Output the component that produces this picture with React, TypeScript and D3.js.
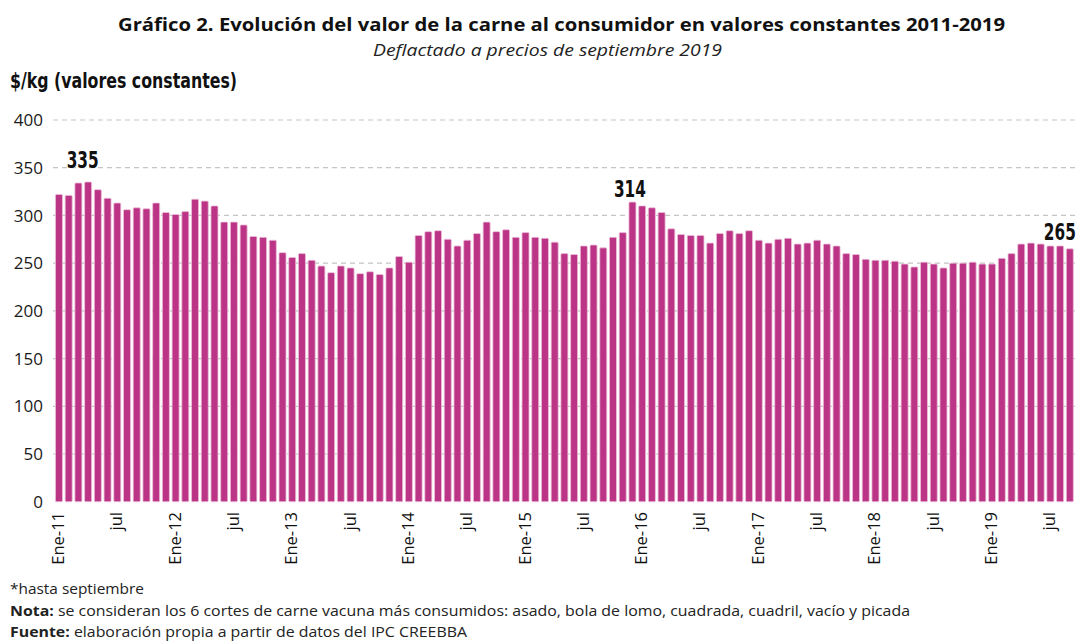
import React from "react";
import * as d3 from "d3";

const values2011 = [322, 321, 334, 335, 327, 318, 313, 306, 308, 307, 313, 303];
const values2012 = [301, 304, 317, 315, 310, 293, 293, 290, 278, 277, 274, 261];
const values2013 = [256, 260, 253, 247, 240, 247, 245, 239, 241, 238, 245, 257];
const values2014 = [251, 279, 283, 284, 275, 268, 274, 281, 293, 283, 285, 277];
const values2015 = [282, 277, 276, 272, 260, 259, 268, 269, 266, 277, 282, 314];
const values2016 = [310, 308, 303, 286, 280, 279, 279, 271, 281, 284, 281, 284];
const values2017 = [274, 271, 275, 276, 270, 271, 274, 270, 268, 260, 259, 254];
const values2018 = [253, 253, 252, 249, 246, 251, 249, 245, 250, 250, 251, 249];
const values2019 = [249, 255, 260, 270, 271, 270, 268, 268, 265];

const values = [
  ...values2011, ...values2012, ...values2013, ...values2014, ...values2015,
  ...values2016, ...values2017, ...values2018, ...values2019,
];

const years = ["11", "12", "13", "14", "15", "16", "17", "18", "19"];
const monthNames = ["Ene", "feb", "mar", "abr", "may", "jun", "jul", "ago", "sep", "oct", "nov", "dic"];
const categories = values.map((_, i) => `${monthNames[i % 12]}-${years[Math.floor(i / 12)]}`);
const tickCategories = categories.filter((c) => c.startsWith("Ene") || c.startsWith("jul"));
const tickLabel = (c: string) => (c.startsWith("jul") ? "jul" : c);

const yTicks = [0, 50, 100, 150, 200, 250, 300, 350, 400];
const annotations = [
  { category: "abr-11", label: "335" },
  { category: "dic-15", label: "314" },
  { category: "sep-19", label: "265" },
];
const annotationOffsets: Record<string, { dx: number; dy: number }> = {
  "335": { dx: -5.5, dy: -14 },
  "314": { dx: -2.5, dy: -5 },
  "265": { dx: -10, dy: -9 },
};

const W = 1081;
const H = 642;
const BAR = "#bb3486";
const narrow = "'Liberation Sans Narrow', 'DejaVu Sans Condensed', 'Roboto', sans-serif";
const sans = "'Open Sans', 'DejaVu Sans', sans-serif";

export default function App() {
  const x = d3
    .scaleBand<string>()
    .domain(categories)
    .range([54.1, 1074.7])
    .paddingInner(0.28)
    .paddingOuter(0.14);
  const y = d3.scaleLinear().domain([0, 400]).range([501.7, 120]);

  return (
    <svg
      width={W}
      height={H}
      style={{ position: "absolute", left: 0, top: 0, background: "#fff" }}
    >
      <rect width={W} height={H} fill="#fff" />
      <text x={118} y={31} fontFamily={sans} fontWeight="bold" fontSize={17.5} fill="#111"
        textLength={887} lengthAdjust="spacingAndGlyphs">
        Gráfico 2. Evolución del valor de la carne al consumidor en valores constantes 2011-2019
      </text>
      <text x={373} y={56} fontFamily={sans} fontStyle="italic" fontSize={16} fill="#222"
        textLength={349} lengthAdjust="spacingAndGlyphs">
        Deflactado a precios de septiembre 2019
      </text>
      <text x={10} y={88} fontFamily={narrow} fontWeight="bold" fontSize={22} fill="#111"
        textLength={227} lengthAdjust="spacingAndGlyphs">
        $/kg (valores constantes)
      </text>

      {yTicks.map((t) => (
        <g key={t}>
          {t > 0 && (
            <line
              x1={53}
              x2={1076}
              y1={y(t)}
              y2={y(t)}
              stroke="#c4c4c4"
              strokeWidth={1.2}
              strokeDasharray="5,4"
            />
          )}
          <text
            x={43}
            y={y(t)}
            dy="0.36em"
            textAnchor="end"
            fontFamily={sans}
            fontSize={17}
            fill="#1a1a1a"
          >
            {t}
          </text>
        </g>
      ))}

      {values.map((v, i) => (
        <rect
          key={i}
          x={x(categories[i])}
          y={y(v)}
          width={x.bandwidth()}
          height={y(0) - y(v)}
          fill={BAR}
          stroke="#ecbfd9"
          strokeWidth={0.8}
          rx={1}
        />
      ))}

      {annotations.map((a) => {
        const idx = categories.indexOf(a.category);
        const off = annotationOffsets[a.label];
        const cx = (x(a.category) as number) + x.bandwidth() / 2 + off.dx;
        return (
          <text
            key={a.label}
            transform={`translate(${cx},${y(values[idx]) + off.dy}) scale(0.74,1)`}
            textAnchor="middle"
            fontFamily={narrow}
            fontWeight="bold"
            fontSize={23}
            fill="#111"
          >
            {a.label}
          </text>
        );
      })}

      {tickCategories.map((c) => {
        const cx = (x(c) as number) + x.bandwidth() / 2;
        return (
          <text
            key={c}
            transform={`translate(${cx + 5},512) rotate(-90)`}
            textAnchor="end"
            fontFamily={sans}
            fontSize={16.5}
            fill="#111"
          >
            {tickLabel(c)}
          </text>
        );
      })}

      <text x={10} y={594} fontFamily={sans} fontSize={15} fill="#222"
        textLength={134} lengthAdjust="spacingAndGlyphs">
        *hasta septiembre
      </text>
      <text x={10} y={616} fontFamily={sans} fontSize={15} fill="#222"
        textLength={900} lengthAdjust="spacingAndGlyphs">
        <tspan fontWeight="bold">Nota:</tspan> se consideran los 6 cortes de carne vacuna más consumidos: asado, bola de lomo, cuadrada, cuadril, vacío y picada
      </text>
      <text x={10} y={637} fontFamily={sans} fontSize={15} fill="#222"
        textLength={457} lengthAdjust="spacingAndGlyphs">
        <tspan fontWeight="bold">Fuente:</tspan> elaboración propia a partir de datos del IPC CREEBBA
      </text>
    </svg>
  );
}
